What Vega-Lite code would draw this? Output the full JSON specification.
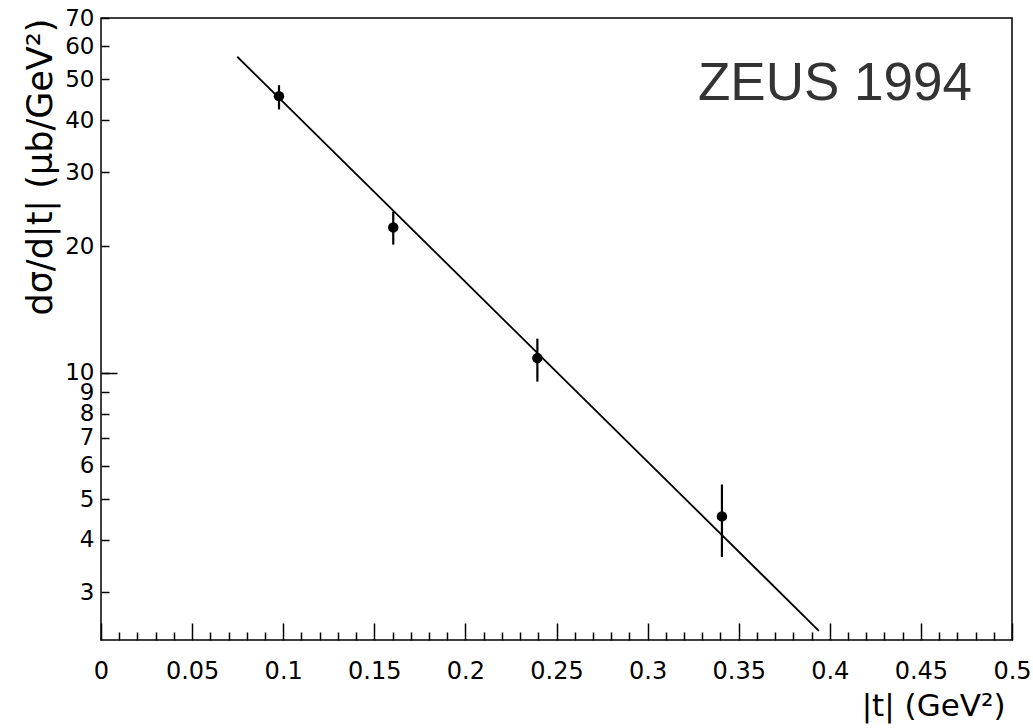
{
  "$schema": "https://vega.github.io/schema/vega-lite/v6.json",
  "width": 911,
  "height": 622,
  "autosize": "none",
  "padding": {"left": 101, "top": 18, "right": 21, "bottom": 88},
  "background": "white",
  "config": {
    "view": {"stroke": "black", "strokeWidth": 1.5},
    "font": "DejaVu Sans",
    "axis": {"grid": false, "domain": false, "tickColor": "black", "labelColor": "black", "titleColor": "black", "labelFont": "DejaVu Sans", "titleFont": "DejaVu Sans", "titleFontWeight": "normal"}
  },
  "datasets": {
    "points": [
      {"t": 0.0977, "v": 45.6, "lo": 42.4, "hi": 48.4},
      {"t": 0.1604, "v": 22.2, "lo": 20.2, "hi": 24.2},
      {"t": 0.2395, "v": 10.84, "lo": 9.53, "hi": 12.06},
      {"t": 0.3408, "v": 4.55, "lo": 3.64, "hi": 5.42}
    ],
    "fit": [
      {"t": 0.0748, "v": 56.6},
      {"t": 0.394, "v": 2.43}
    ],
    "label": [
      {"t": 0.478, "v": 44.7, "text": "ZEUS 1994"}
    ]
  },
  "layer": [
    {
      "data": {"name": "fit"},
      "mark": {"type": "line", "color": "black", "strokeWidth": 1.8},
      "encoding": {
        "x": {"field": "t", "type": "quantitative",
          "scale": {"domain": [0, 0.5], "nice": false, "zero": false},
          "axis": {"orient": "bottom", "values": [0, 0.05, 0.1, 0.15, 0.2, 0.25, 0.3, 0.35, 0.4, 0.45, 0.5],
            "format": "~g", "tickSize": -17, "tickWidth": 1.5, "labelPadding": 36, "labelFontSize": 24,
            "labelOverlap": false, "labelFlush": false, "labelBound": false,
            "title": "|t| (GeV²)", "titleFontSize": 31, "titleX": 904, "titleY": 66, "titleAlign": "right", "titleBaseline": "middle", "titleAngle": 0}},
        "y": {"field": "v", "type": "quantitative",
          "scale": {"type": "log", "domain": [2.31, 70], "nice": false},
          "axis": {"orient": "left", "values": [3, 4, 5, 6, 7, 8, 9, 10, 20, 30, 40, 50, 60, 70],
            "format": "~g", "tickSize": -8, "tickWidth": 1.5, "labelPadding": 15, "labelFontSize": 23,
            "labelOverlap": false, "labelFlush": false, "labelBound": false,
            "title": "dσ/d|t| (μb/GeV²)", "titleFontSize": 35, "titleX": -61, "titleY": 0, "titleAngle": -90, "titleAlign": "right", "titleBaseline": "middle"}}
      }
    },
    {
      "data": {"name": "points"},
      "mark": {"type": "rule", "color": "black", "strokeWidth": 2.2},
      "encoding": {
        "x": {"field": "t", "type": "quantitative",
          "axis": {"orient": "bottom", "values": [0.01, 0.02, 0.03, 0.04, 0.06, 0.07, 0.08, 0.09, 0.11, 0.12, 0.13, 0.14, 0.16, 0.17, 0.18, 0.19, 0.21, 0.22, 0.23, 0.24, 0.26, 0.27, 0.28, 0.29, 0.31, 0.32, 0.33, 0.34, 0.36, 0.37, 0.38, 0.39, 0.41, 0.42, 0.43, 0.44, 0.46, 0.47, 0.48, 0.49],
            "tickSize": -8, "tickWidth": 1.5, "labels": false, "title": null}},
        "y": {"field": "lo", "type": "quantitative",
          "axis": {"orient": "left", "values": [10], "tickSize": -16, "tickWidth": 1.5, "labels": false, "title": null}},
        "y2": {"field": "hi"}
      }
    },
    {
      "data": {"name": "points"},
      "mark": {"type": "circle", "color": "black", "opacity": 1, "size": 110},
      "encoding": {
        "x": {"field": "t", "type": "quantitative", "axis": null},
        "y": {"field": "v", "type": "quantitative", "axis": null}
      }
    },
    {
      "data": {"name": "label"},
      "mark": {"type": "text", "align": "right", "baseline": "alphabetic", "fontSize": 53, "font": "Liberation Sans", "fill": "#333333"},
      "encoding": {
        "x": {"field": "t", "type": "quantitative", "axis": null},
        "y": {"field": "v", "type": "quantitative", "axis": null},
        "text": {"field": "text"}
      }
    }
  ],
  "resolve": {"axis": {"x": "independent", "y": "independent"}}
}
